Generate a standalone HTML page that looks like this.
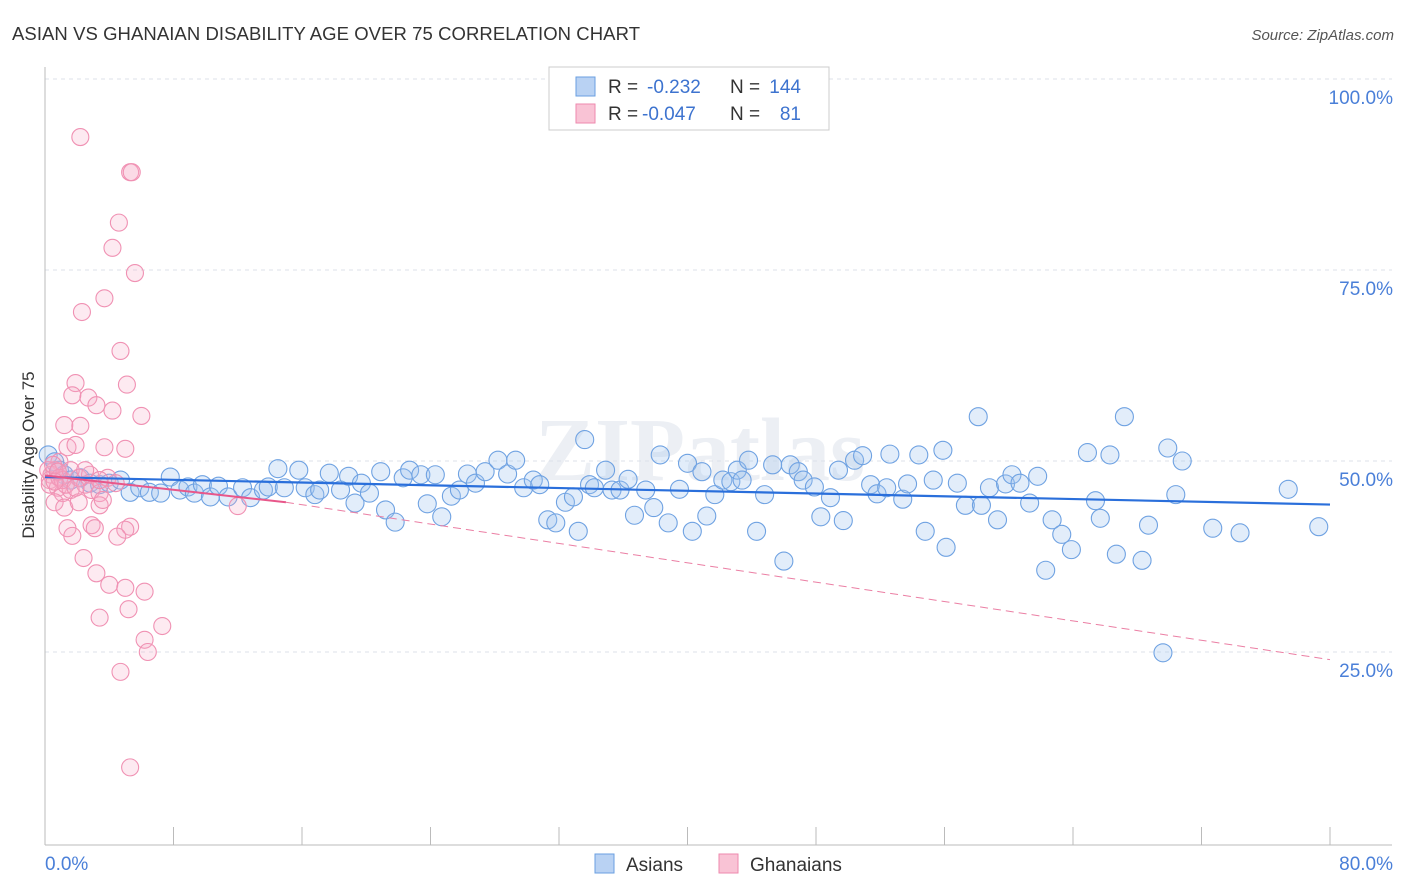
<!DOCTYPE html>
<html><head><meta charset="utf-8"><style>
body{margin:0;background:#fff;font-family:"Liberation Sans",sans-serif;}
#wrap{position:relative;width:1406px;height:892px;overflow:hidden;}
</style></head><body>
<div id="wrap">
<svg id="svg" width="1406" height="892" xmlns="http://www.w3.org/2000/svg">
<text x="12" y="40" font-size="18.5" fill="#333" textLength="628">ASIAN VS GHANAIAN DISABILITY AGE OVER 75 CORRELATION CHART</text>
<text x="1394" y="40" font-size="15" fill="#555" font-style="italic" text-anchor="end">Source: ZipAtlas.com</text>
<text x="700" y="480" font-size="90" fill="#eceff4" text-anchor="middle" font-family="Liberation Serif" font-weight="bold">ZIPatlas</text>
<g id="grid"></g>
<g id="axes"></g>
<g id="pts"></g>
<g id="trend"></g>
<text transform="translate(34,455) rotate(-90)" font-size="17" fill="#333" text-anchor="middle">Disability Age Over 75</text>
<g>
<rect x="549" y="67" width="280" height="63" fill="#fff" stroke="#ccc"/>
<rect x="576" y="77" width="19" height="19" fill="#b9d2f3" stroke="#6a9fe0"/>
<rect x="576" y="104" width="19" height="19" fill="#f9c3d5" stroke="#ee8aae"/>
<text x="608" y="93" font-size="19" fill="#333">R =</text>
<text x="647" y="93" font-size="19" fill="#3d73cf">-0.232</text>
<text x="730" y="93" font-size="19" fill="#333">N =</text>
<text x="801" y="93" font-size="19" fill="#3d73cf" text-anchor="end">144</text>
<text x="608" y="120" font-size="19" fill="#333">R =</text>
<text x="642" y="120" font-size="19" fill="#3d73cf">-0.047</text>
<text x="730" y="120" font-size="19" fill="#333">N =</text>
<text x="801" y="120" font-size="19" fill="#3d73cf" text-anchor="end">81</text>
</g>
<g>
<rect x="595" y="854" width="19" height="19" fill="#b9d2f3" stroke="#6a9fe0"/>
<text x="626" y="871" font-size="19" fill="#333">Asians</text>
<rect x="719" y="854" width="19" height="19" fill="#f9c3d5" stroke="#ee8aae"/>
<text x="750" y="871" font-size="19" fill="#333">Ghanaians</text>
</g>
</svg>
</div>
<script>
const yTicks=[25,50,75,100];
const yTickLabels=["25.0%","50.0%","75.0%","100.0%"];
const xTicks=[0,8,16,24,32,40,48,56,64,72,80];
const asianX=[0.2,0.6,0.9,1.2,1.6,2.2,2.8,3.4,4.0,4.7,5.3,5.9,6.5,7.2,7.8,8.4,8.9,9.3,9.8,10.3,10.8,11.4,12.3,12.8,13.6,13.9,14.5,14.9,15.8,16.2,16.8,17.1,17.7,18.4,19.3,18.9,19.7,20.2,20.9,21.2,21.8,22.3,22.7,23.4,24.3,23.8,24.7,25.3,25.8,26.3,26.8,27.4,28.2,28.8,29.3,29.8,30.4,30.8,31.3,31.8,32.4,32.9,33.2,33.6,33.9,34.2,34.9,35.3,35.8,36.3,36.7,37.4,37.9,38.3,38.8,39.5,40.0,40.3,40.9,41.2,41.7,42.2,42.7,43.1,43.4,43.8,44.3,44.8,45.3,46.0,46.4,46.9,47.2,47.9,48.3,48.9,49.4,49.7,50.4,50.9,51.4,51.8,52.4,52.6,53.4,53.7,54.4,54.8,55.3,55.9,56.1,56.8,57.3,58.1,58.3,58.8,59.3,59.8,60.2,60.7,61.3,61.8,62.3,62.7,63.3,63.9,64.9,65.4,65.7,66.3,66.7,67.2,68.3,68.7,69.6,69.9,70.4,70.8,72.7,74.4,77.4,79.3];
const asianY=[50.8,49.9,48.8,48.2,47.5,47.8,47.1,46.9,47.1,47.5,45.9,46.5,45.9,45.8,47.9,46.2,46.6,45.8,46.9,45.3,46.7,45.3,46.5,45.2,46.2,46.6,49.0,46.5,48.8,46.5,45.6,46.2,48.4,46.2,44.5,48.0,47.1,45.8,48.6,43.6,42.0,47.8,48.8,48.2,48.2,44.4,42.7,45.4,46.2,48.3,47.1,48.6,50.1,48.3,50.1,46.5,47.5,46.9,42.3,41.9,44.6,45.3,40.8,52.8,46.9,46.5,48.8,46.2,46.2,47.6,42.9,46.2,43.9,50.8,41.9,46.3,49.7,40.8,48.6,42.8,45.6,47.5,47.3,48.8,47.5,50.1,40.8,45.6,49.5,36.9,49.5,48.6,47.5,46.6,42.7,45.2,48.8,42.2,50.1,50.7,46.9,45.7,46.5,50.9,45.0,47.0,50.8,40.8,47.5,51.4,38.7,47.1,44.2,55.8,44.2,46.5,42.3,47.0,48.2,47.1,44.5,48.0,35.7,42.3,40.4,38.4,51.1,44.8,42.5,50.8,37.8,55.8,37.0,41.6,24.9,51.7,45.6,50.0,41.2,40.6,46.3,41.4];
const ghanaX=[2.2,5.3,5.4,4.6,4.2,5.6,3.7,2.3,4.7,5.1,1.9,2.7,3.2,1.7,4.2,6.0,1.2,2.2,5.0,1.4,1.9,3.7,0.9,0.6,0.4,0.3,0.8,1.1,1.6,2.1,2.5,2.9,3.4,3.9,4.4,0.6,1.2,2.1,3.4,3.6,12.0,1.4,1.7,2.9,3.1,5.3,5.0,4.5,2.4,3.2,4.0,5.0,6.2,3.4,5.2,7.3,6.2,6.4,4.7,5.3,0.2,0.3,0.5,0.9,1.1,1.3,1.6,0.8,0.6,2.8,3.4,2.5,1.9];
const ghanaY=[92.4,87.8,87.8,81.2,77.9,74.6,71.3,69.5,64.4,60.0,60.2,58.3,57.3,58.6,56.6,55.9,54.7,54.6,51.6,51.8,52.1,51.8,49.9,48.8,48.2,47.5,46.5,45.8,46.2,47.8,46.9,46.2,45.8,47.8,47.1,44.6,43.9,44.6,44.2,44.9,44.1,41.2,40.2,41.6,41.2,41.4,41.0,40.1,37.3,35.3,33.8,33.4,32.9,29.5,30.6,28.4,26.6,25.0,22.4,9.9,48.8,46.9,49.5,47.8,47.5,46.9,48.8,48.6,47.3,48.2,47.5,48.8,46.5];
const asianTrend=[[0,47.9],[80,44.3]];
const ghanaTrend=[[0,48.1],[15,44.6],[80,24.0]];
const NS="http://www.w3.org/2000/svg";
const X0=45,X1=1330,Y0=843,Ypp=7.64;
function sx(v){return X0+(X1-X0)*v/80;}
function sy(v){return Y0-v*Ypp;}
function mk(t,a,p){const e=document.createElementNS(NS,t);for(const k in a)e.setAttribute(k,a[k]);p.appendChild(e);return e;}
const grid=document.getElementById('grid'),axes=document.getElementById('axes'),pts=document.getElementById('pts'),tr=document.getElementById('trend');
yTicks.forEach((v,i)=>{
 const l=mk('line',{x1:X0,x2:1392,y1:sy(v),y2:sy(v),stroke:'#dde2ea','stroke-dasharray':'4,4'},grid);
 
 
 const t=mk('text',{x:1393,y:sy(v)+25,'font-size':19,fill:'#4a7fd8','text-anchor':'end'},grid);
 t.textContent=yTickLabels[i];
 
 
});
const ya=mk('line',{x1:X0,x2:X0,y1:67,y2:845,stroke:'#bbb'},axes);


const xa=mk('line',{x1:X0,x2:1392,y1:845,y2:845,stroke:'#bbb'},axes);


xTicks.forEach(v=>{
 const l=mk('line',{x1:sx(v),x2:sx(v),y1:827,y2:845,stroke:'#bbb'},axes);
 
 
});
const xl0=mk('text',{x:45,y:870,'font-size':19,fill:'#4a7fd8'},axes);xl0.textContent='0.0%';


const xl1=mk('text',{x:1393,y:870,'font-size':19,fill:'#4a7fd8','text-anchor':'end'},axes);xl1.textContent='80.0%';


asianX.forEach((v,i)=>{
 const c=mk('circle',{cx:sx(v),cy:sy(asianY[i]),r:9,fill:'rgba(160,196,240,0.3)',stroke:'#6fa2e2','stroke-width':1.1},pts);
 
 
});
ghanaX.forEach((v,i)=>{
 const c=mk('circle',{cx:sx(v),cy:sy(ghanaY[i]),r:8.5,fill:'rgba(246,170,198,0.25)',stroke:'#f091b3','stroke-width':1.1},pts);
 
 
});
const bt=mk('line',{x1:sx(asianTrend[0][0]),y1:sy(asianTrend[0][1]),x2:sx(asianTrend[1][0]),y2:sy(asianTrend[1][1]),stroke:'#2a6fdb','stroke-width':2.2},tr);


const pt=mk('line',{x1:sx(ghanaTrend[0][0]),y1:sy(ghanaTrend[0][1]),x2:sx(ghanaTrend[1][0]),y2:sy(ghanaTrend[1][1]),stroke:'#e8578a','stroke-width':2},tr);


const pd=mk('line',{x1:sx(ghanaTrend[1][0]),y1:sy(ghanaTrend[1][1]),x2:sx(ghanaTrend[2][0]),y2:sy(ghanaTrend[2][1]),stroke:'#eb7fa4','stroke-width':1,'stroke-dasharray':'8,5'},tr);


</script>
</body></html>
